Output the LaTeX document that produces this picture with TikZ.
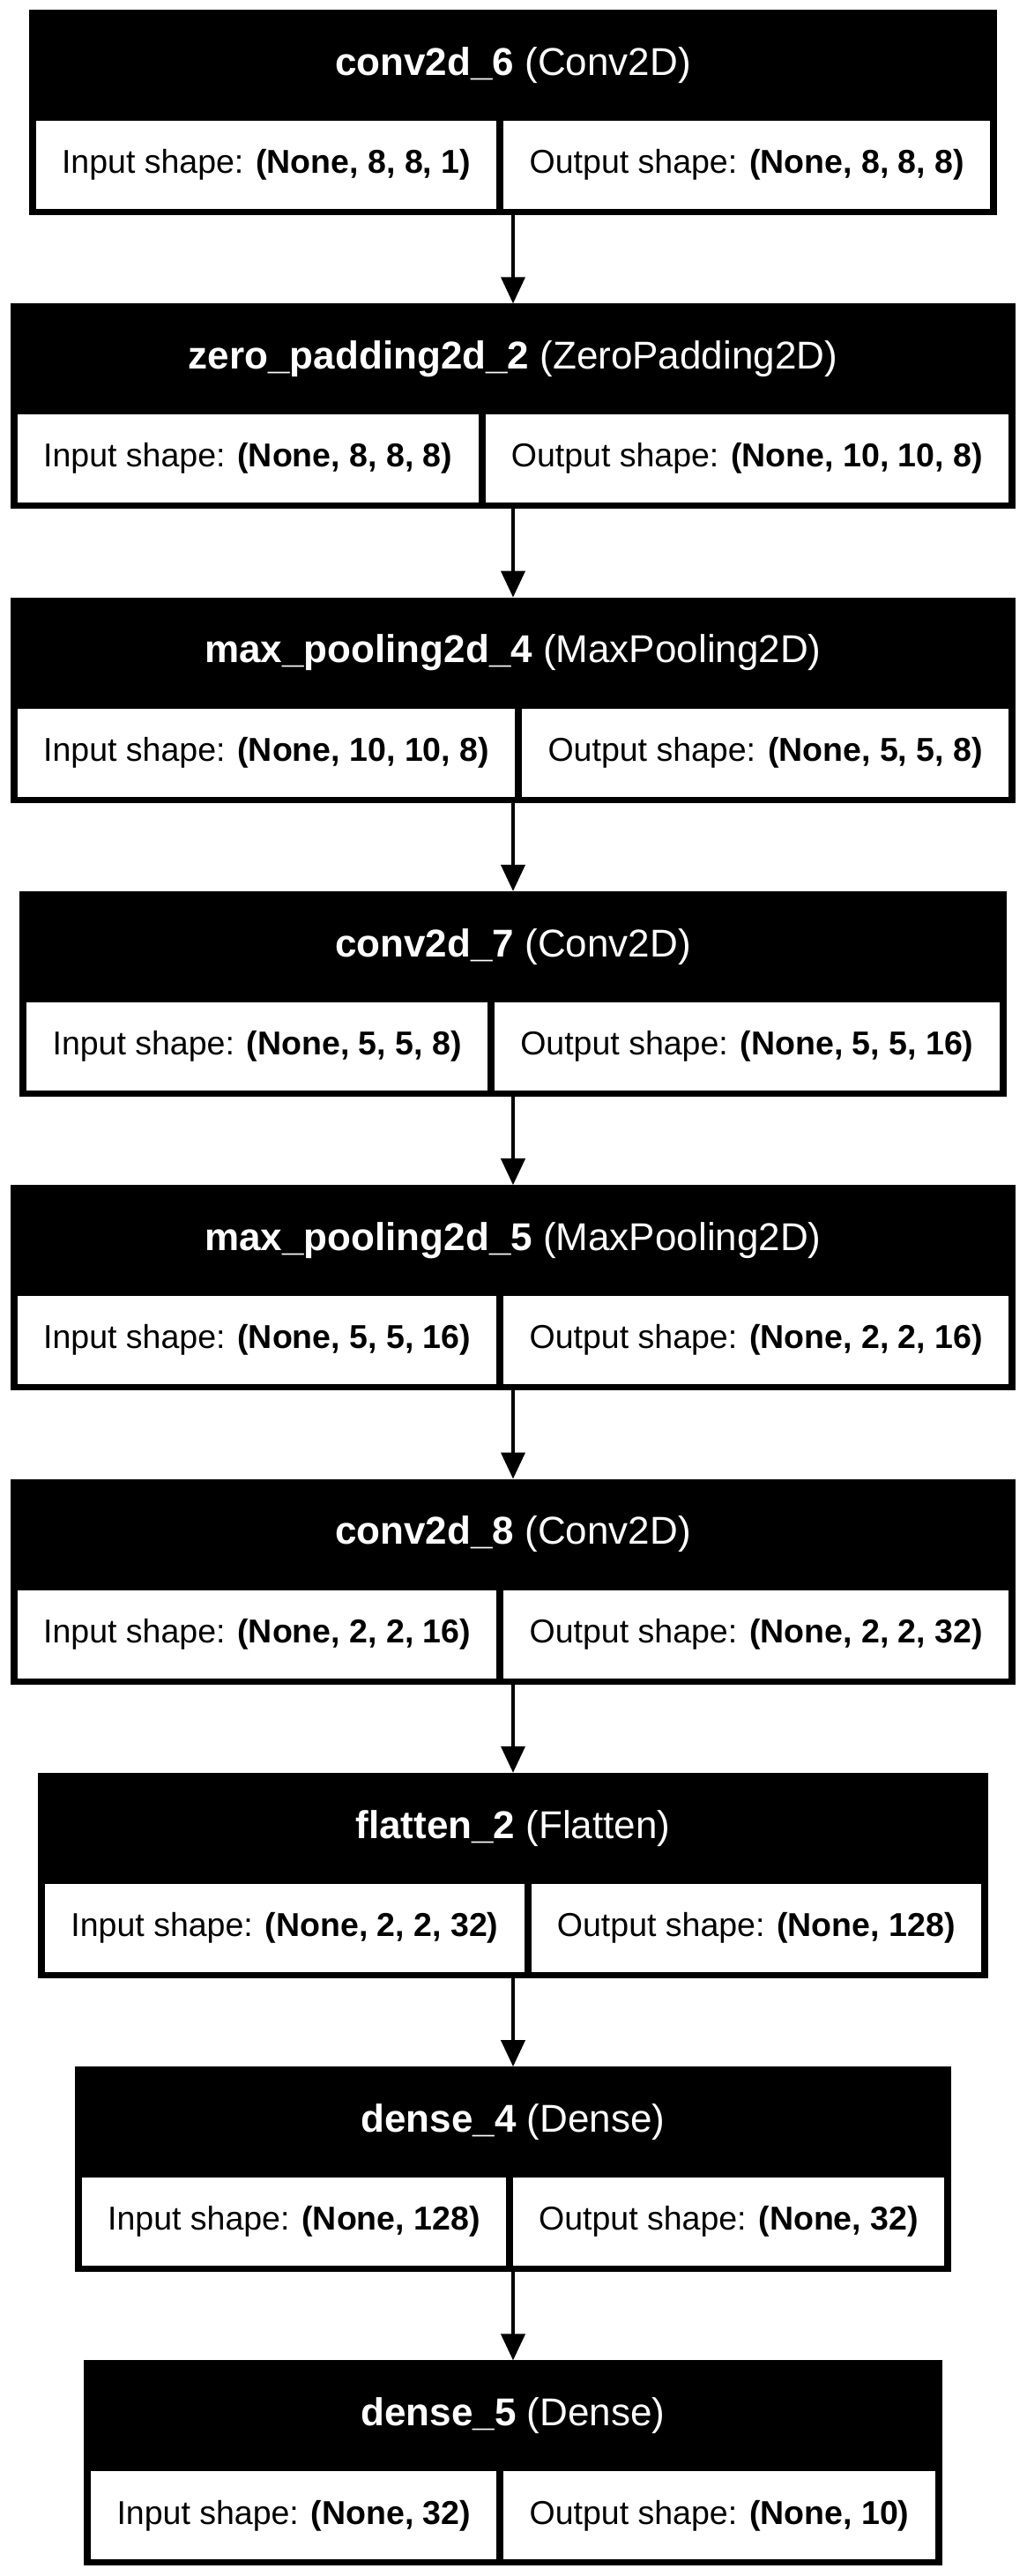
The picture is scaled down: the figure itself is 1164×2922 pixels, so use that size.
\documentclass[tikz,border=0pt]{standalone}
\usepackage{fontspec}
\setmainfont{Liberation Sans}
\usetikzlibrary{arrows.meta, positioning, calc}

\begin{document}
\begin{tikzpicture}[
    x=1pt, y=-1pt,
    layer/.style={rectangle, fill=black, minimum height=233pt, inner sep=0pt, outer sep=0pt, anchor=north},
    title/.style={text=white, inner sep=0pt, font=\fontsize{44}{52}\selectfont},
    cell/.style={rectangle, fill=white, minimum height=100pt, inner sep=0pt, outer sep=0pt, font=\fontsize{37.5}{45}\selectfont},
    cellin/.style={cell, anchor=south west},
    cellout/.style={cell, anchor=south east},
    arrow/.style={line width=4pt, -{Triangle[length=30pt, width=27pt]}}
]
\useasboundingbox (0,0) rectangle (1164,2922);
\coordinate (spine) at (582,0);

% conv2d_6
\node[layer, minimum width=1098.5pt] (conv6) at (582,11) {};
\node[title] (conv6t) at ($(conv6.north)+(0,63)$) {\textbf{conv2d\_6} (Conv2D)};
\node[cellin, minimum width=522.7pt] (conv6in) at ($(conv6.south west)+(8,-7)$) {Input shape: \textbf{(None, 8, 8, 1)}};
\node[cellout, minimum width=551.8pt] (conv6out) at ($(conv6.south east)+(-8,-7)$) {Output shape: \textbf{(None, 8, 8, 8)}};

% zero_padding2d_2
\node[layer, minimum width=1140.2pt] (zpad) at (582,344.3) {};
\node[title] (zpadt) at ($(zpad.north)+(0,63)$) {\textbf{zero\_padding2d\_2} (ZeroPadding2D)};
\node[cellin, minimum width=522.7pt] (zpadin) at ($(zpad.south west)+(8,-7)$) {Input shape: \textbf{(None, 8, 8, 8)}};
\node[cellout, minimum width=593.5pt] (zpadout) at ($(zpad.south east)+(-8,-7)$) {Output shape: \textbf{(None, 10, 10, 8)}};

% max_pooling2d_4
\node[layer, minimum width=1140.2pt] (pool4) at (582,677.6) {};
\node[title] (pool4t) at ($(pool4.north)+(0,63)$) {\textbf{max\_pooling2d\_4} (MaxPooling2D)};
\node[cellin, minimum width=564.4pt] (pool4in) at ($(pool4.south west)+(8,-7)$) {Input shape: \textbf{(None, 10, 10, 8)}};
\node[cellout, minimum width=551.8pt] (pool4out) at ($(pool4.south east)+(-8,-7)$) {Output shape: \textbf{(None, 5, 5, 8)}};

% conv2d_7
\node[layer, minimum width=1119.4pt] (conv7) at (582,1010.9) {};
\node[title] (conv7t) at ($(conv7.north)+(0,63)$) {\textbf{conv2d\_7} (Conv2D)};
\node[cellin, minimum width=522.7pt] (conv7in) at ($(conv7.south west)+(8,-7)$) {Input shape: \textbf{(None, 5, 5, 8)}};
\node[cellout, minimum width=572.7pt] (conv7out) at ($(conv7.south east)+(-8,-7)$) {Output shape: \textbf{(None, 5, 5, 16)}};

% max_pooling2d_5
\node[layer, minimum width=1140.2pt] (pool5) at (582,1344.2) {};
\node[title] (pool5t) at ($(pool5.north)+(0,63)$) {\textbf{max\_pooling2d\_5} (MaxPooling2D)};
\node[cellin, minimum width=543.5pt] (pool5in) at ($(pool5.south west)+(8,-7)$) {Input shape: \textbf{(None, 5, 5, 16)}};
\node[cellout, minimum width=572.7pt] (pool5out) at ($(pool5.south east)+(-8,-7)$) {Output shape: \textbf{(None, 2, 2, 16)}};

% conv2d_8
\node[layer, minimum width=1140.2pt] (conv8) at (582,1677.5) {};
\node[title] (conv8t) at ($(conv8.north)+(0,63)$) {\textbf{conv2d\_8} (Conv2D)};
\node[cellin, minimum width=543.5pt] (conv8in) at ($(conv8.south west)+(8,-7)$) {Input shape: \textbf{(None, 2, 2, 16)}};
\node[cellout, minimum width=572.7pt] (conv8out) at ($(conv8.south east)+(-8,-7)$) {Output shape: \textbf{(None, 2, 2, 32)}};

% flatten_2
\node[layer, minimum width=1077.6pt] (flat) at (582,2010.8) {};
\node[title] (flatt) at ($(flat.north)+(0,63)$) {\textbf{flatten\_2} (Flatten)};
\node[cellin, minimum width=543.5pt] (flatin) at ($(flat.south west)+(8,-7)$) {Input shape: \textbf{(None, 2, 2, 32)}};
\node[cellout, minimum width=510.1pt] (flatout) at ($(flat.south east)+(-8,-7)$) {Output shape: \textbf{(None, 128)}};

% dense_4
\node[layer, minimum width=994.3pt] (dense4) at (582,2344.1) {};
\node[title] (dense4t) at ($(dense4.north)+(0,63)$) {\textbf{dense\_4} (Dense)};
\node[cellin, minimum width=481pt] (dense4in) at ($(dense4.south west)+(8,-7)$) {Input shape: \textbf{(None, 128)}};
\node[cellout, minimum width=489.3pt] (dense4out) at ($(dense4.south east)+(-8,-7)$) {Output shape: \textbf{(None, 32)}};

% dense_5
\node[layer, minimum width=973.4pt] (dense5) at (582,2677.4) {};
\node[title] (dense5t) at ($(dense5.north)+(0,63)$) {\textbf{dense\_5} (Dense)};
\node[cellin, minimum width=460.1pt] (dense5in) at ($(dense5.south west)+(8,-7)$) {Input shape: \textbf{(None, 32)}};
\node[cellout, minimum width=489.3pt] (dense5out) at ($(dense5.south east)+(-8,-7)$) {Output shape: \textbf{(None, 10)}};

% Arrows
\draw[arrow] (conv6.south -| spine) -- (zpad.north -| spine);
\draw[arrow] (zpad.south -| spine) -- (pool4.north -| spine);
\draw[arrow] (pool4.south -| spine) -- (conv7.north -| spine);
\draw[arrow] (conv7.south -| spine) -- (pool5.north -| spine);
\draw[arrow] (pool5.south -| spine) -- (conv8.north -| spine);
\draw[arrow] (conv8.south -| spine) -- (flat.north -| spine);
\draw[arrow] (flat.south -| spine) -- (dense4.north -| spine);
\draw[arrow] (dense4.south -| spine) -- (dense5.north -| spine);

\end{tikzpicture}
\end{document}
